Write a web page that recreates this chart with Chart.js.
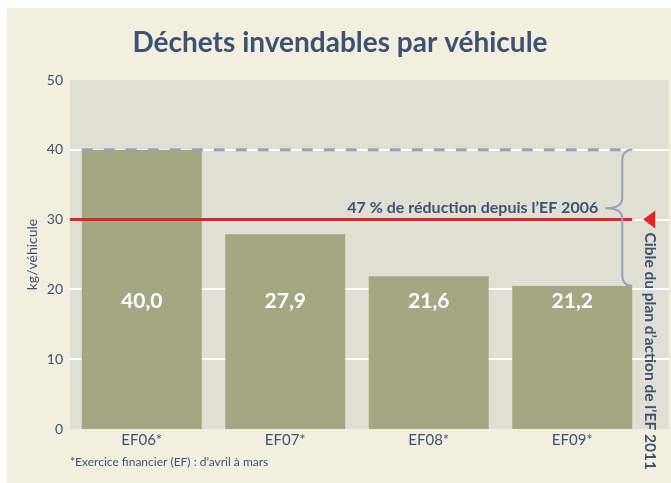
<!DOCTYPE html>
<html>
<head>
<meta charset="utf-8">
<script src="https://cdn.jsdelivr.net/npm/chart.js@4.4.1/dist/chart.umd.min.js"></script>
<style>
  html, body { margin: 0; padding: 0; background: #ffffff; }
  #wrap { width: 671px; height: 483px; }
</style>
</head>
<body>
<div id="wrap"><canvas id="chart" width="671" height="483"></canvas></div>
<script>
const categories = ['EF06*', 'EF07*', 'EF08*', 'EF09*'];
// bar heights as drawn in the source graphic
const wastePerVehicle = [40.0, 27.9, 21.9, 20.5];
// printed values
const valueLabels = ['40,0', '27,9', '21,6', '21,2'];
const yTicks = [0, 10, 20, 30, 40, 50];
const baselineLevel = [40];
const targetLevel = [30];

const ink = '#3d5273';
const cream = '#f3efdf';
const plotGray = '#dfdfd3';
const olive = '#a3a883';
const red = '#e2232a';
const braceGray = '#9da1b8';

const decor = {
  id: 'decor',
  beforeDraw(chart) {
    const {ctx, chartArea: a, scales: {y}} = chart;
    ctx.save();
    ctx.fillStyle = '#ffffff';
    ctx.fillRect(0, 0, chart.width, chart.height);
    ctx.fillStyle = cream;
    ctx.fillRect(7, 8, chart.width - 7, chart.height - 8);
    // grey plot panel, stretched under the side label
    ctx.fillStyle = plotGray;
    ctx.fillRect(a.left, a.top, chart.width - 2 - a.left, a.bottom - a.top);
    ctx.strokeStyle = '#ffffff';
    ctx.lineWidth = 2;
    yTicks.slice(1, -1).forEach(v => {
      const py = Math.round(y.getPixelForValue(v));
      ctx.beginPath();
      ctx.moveTo(a.left, py);
      ctx.lineTo(chart.width - 2, py);
      ctx.stroke();
    });
    // title
    ctx.fillStyle = ink;
    ctx.font = 'bold 28px Lato';
    ctx.textAlign = 'center';
    ctx.textBaseline = 'middle';
    ctx.fillText('Déchets invendables par véhicule', 340, 43);
    ctx.restore();
  },
  afterDatasetsDraw(chart) {
    const {ctx, chartArea: a, scales: {y}} = chart;
    const bars = chart.getDatasetMeta(0).data;
    const first = bars[0], last = bars[bars.length - 1];
    const lastRight = last.x + last.width / 2;
    const yBase = y.getPixelForValue(baselineLevel[0]);
    const yTarget = y.getPixelForValue(targetLevel[0]);
    const yLow = last.y;
    ctx.save();

    // dashed line at the 2006 level
    ctx.strokeStyle = braceGray;
    ctx.lineWidth = 3;
    ctx.setLineDash([11, 11]);
    ctx.beginPath();
    ctx.moveTo(first.x - first.width / 2, yBase);
    ctx.lineTo(lastRight, yBase);
    ctx.stroke();
    ctx.setLineDash([]);

    // red target line + arrow
    ctx.strokeStyle = red;
    ctx.lineWidth = 3;
    ctx.beginPath();
    ctx.moveTo(a.left, yTarget);
    ctx.lineTo(lastRight, yTarget);
    ctx.stroke();
    ctx.fillStyle = red;
    ctx.beginPath();
    ctx.moveTo(lastRight + 11, yTarget);
    ctx.lineTo(lastRight + 23, yTarget - 9);
    ctx.lineTo(lastRight + 23, yTarget + 9);
    ctx.closePath();
    ctx.fill();

    // brace
    const xr = lastRight, xm = lastRight - 10, xt = lastRight - 27;
    const yt = yBase + (yLow - yBase) * 0.43;
    ctx.strokeStyle = braceGray;
    ctx.lineWidth = 2;
    ctx.beginPath();
    ctx.moveTo(xr, yBase);
    ctx.quadraticCurveTo(xm, yBase, xm, yBase + 12);
    ctx.lineTo(xm, yt - 10);
    ctx.quadraticCurveTo(xm, yt, xt, yt);
    ctx.quadraticCurveTo(xm, yt, xm, yt + 10);
    ctx.lineTo(xm, yLow - 12);
    ctx.quadraticCurveTo(xm, yLow, xr, yLow);
    ctx.stroke();

    ctx.fillStyle = ink;
    ctx.font = 'bold 16px Lato';
    ctx.textAlign = 'right';
    ctx.textBaseline = 'alphabetic';
    ctx.fillText('47 % de réduction depuis l\u2019EF 2006', xt - 7, yTarget - 7);

    // value labels inside bars
    ctx.fillStyle = '#ffffff';
    ctx.font = 'bold 21px Lato';
    ctx.textAlign = 'center';
    ctx.textBaseline = 'middle';
    bars.forEach((b, i) => ctx.fillText(valueLabels[i], b.x, a.bottom - 128));

    // side label
    ctx.save();
    ctx.translate(lastRight + 18, yTarget + 13);
    ctx.rotate(Math.PI / 2);
    ctx.fillStyle = ink;
    ctx.font = 'bold 15.5px Lato';
    ctx.textAlign = 'left';
    ctx.textBaseline = 'middle';
    ctx.fillText('Cible du plan d\u2019action de l\u2019EF 2011', 0, 0);
    ctx.restore();

    // footnote
    ctx.fillStyle = ink;
    ctx.font = '12px Lato';
    ctx.textAlign = 'left';
    ctx.textBaseline = 'middle';
    ctx.fillText('*Exercice financier (EF) : d\u2019avril à mars', a.left, 462);
    ctx.restore();
  }
};

new Chart(document.getElementById('chart'), {
  type: 'bar',
  data: {
    labels: categories,
    datasets: [{
      data: wastePerVehicle,
      backgroundColor: olive,
      borderWidth: 0,
      barPercentage: 0.836,
      categoryPercentage: 1
    }]
  },
  options: {
    responsive: false,
    animation: false,
    layout: { padding: { left: 0, right: 27, top: 80, bottom: 0 } },
    plugins: {
      legend: { display: false },
      tooltip: { enabled: false },
      title: { display: false }
    },
    scales: {
      x: {
        grid: { display: false, drawTicks: false },
        border: { display: false },
        ticks: { color: ink, font: { family: 'Lato', size: 15 }, padding: 2 },
        afterFit(scale) { scale.height = 54; }
      },
      y: {
        min: yTicks[0],
        max: yTicks[yTicks.length - 1],
        grid: { display: false, drawTicks: false },
        border: { display: false },
        ticks: { stepSize: 10, color: ink, font: { family: 'Lato', size: 14 }, padding: 7 },
        title: {
          display: true,
          text: 'kg/véhicule',
          color: ink,
          font: { family: 'Lato', size: 14, lineHeight: 1.2 },
          padding: { top: 24 }
        },
        afterFit(scale) { scale.width = 70; }
      }
    }
  },
  plugins: [decor]
});
</script>
</body>
</html>
